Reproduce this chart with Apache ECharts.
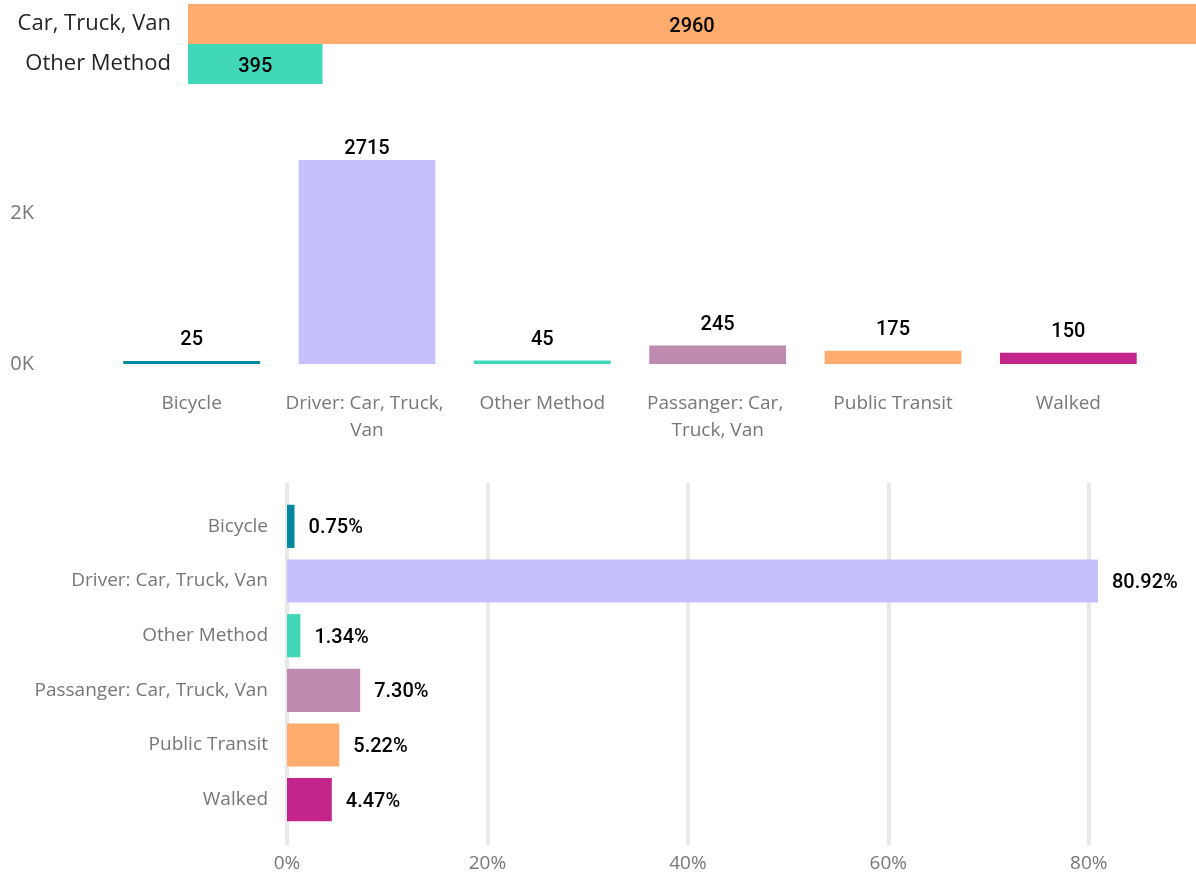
<!DOCTYPE html>
<html>
<head>
<meta charset="utf-8">
<script src="https://cdn.jsdelivr.net/npm/echarts@6/dist/echarts.min.js"></script>
<style>
  html, body { margin: 0; padding: 0; background: #fff; }
  #main { width: 1196px; height: 875px; }
</style>
</head>
<body>
<div id="main"></div>
<script>
var groupNames = ['Car, Truck, Van', 'Other Method'];
var groupValues = [2960, 395];
var groupColors = ['#FFAC6E', '#41D7B9'];

var methods = ['Bicycle', 'Driver: Car, Truck, Van', 'Other Method', 'Passanger: Car, Truck, Van', 'Public Transit', 'Walked'];
var counts = [25, 2715, 45, 245, 175, 150];
var shares = [0.75, 80.92, 1.34, 7.30, 5.22, 4.47];
var methodColors = ['#01889F', '#C5C1FF', '#41D7B9', '#BF8AB0', '#FFAC6E', '#C2268A'];

var labelFont = '"Segoe UI", "Open Sans", sans-serif';
var valueFont = 'Roboto, "DejaVu Sans Condensed", sans-serif';
var grey = '#777777';

function colored(values, colors) {
  return values.map(function (v, i) {
    return { value: v, itemStyle: { color: colors[i] } };
  });
}

// the tallest column's label gets pushed down to stay inside the plot
var maxCount = Math.max.apply(null, counts);
var countData = colored(counts, methodColors).map(function (d) {
  if (d.value === maxCount) d.label = { distance: 1 };
  return d;
});

var option = {
  animation: false,
  grid: [
    { left: 188, right: 0, top: 4, height: 80 },
    { left: 104, right: 40, top: 160, bottom: 511 },
    { left: 287, right: 7, top: 499, height: 328 },
    { left: 287, right: 7, top: 483, bottom: 30 }
  ],
  xAxis: [
    { gridIndex: 0, type: 'value', min: 0, max: 2960, show: false },
    {
      gridIndex: 1, type: 'category', data: methods,
      axisLine: { show: false }, axisTick: { show: false },
      axisLabel: {
        interval: 0, color: grey, fontFamily: labelFont, fontSize: 19,
        margin: 26, width: 165, overflow: 'break', lineHeight: 27
      }
    },
    { gridIndex: 2, type: 'value', min: 0, max: 90, show: false },
    {
      gridIndex: 3, type: 'value', min: 0, max: 90, interval: 20,
      axisLine: { show: false }, axisTick: { show: false },
      splitLine: { show: true, showMaxLine: false, lineStyle: { color: '#E9E9E9', width: 4 } },
      axisLabel: {
        formatter: '{value}%', showMaxLabel: false,
        color: grey, fontFamily: labelFont, fontSize: 19, margin: 9
      }
    }
  ],
  yAxis: [
    {
      gridIndex: 0, type: 'category', data: groupNames, inverse: true,
      axisLine: { show: false }, axisTick: { show: false },
      axisLabel: { color: '#252423', fontFamily: labelFont, fontSize: 22, margin: 17, padding: [4, 0, 0, 0] }
    },
    {
      gridIndex: 1, type: 'value', min: 0, max: 2715, interval: 2000,
      splitLine: { show: false },
      axisLabel: {
        showMaxLabel: false, color: grey, fontFamily: labelFont, fontSize: 20, margin: 70,
        padding: [4, 0, 0, 0],
        formatter: function (v) { return (v / 1000) + 'K'; }
      }
    },
    {
      gridIndex: 2, type: 'category', data: methods, inverse: true,
      axisLine: { show: false }, axisTick: { show: false },
      axisLabel: { color: grey, fontFamily: labelFont, fontSize: 19, margin: 19, padding: [2, 0, 0, 0] }
    },
    { gridIndex: 3, type: 'value', show: false }
  ],
  series: [
    {
      type: 'bar', xAxisIndex: 0, yAxisIndex: 0, barCategoryGap: '0%',
      data: colored(groupValues, groupColors),
      label: {
        show: true, position: 'inside', color: '#000', offset: [0, 3],
        fontFamily: valueFont, fontSize: 20, fontWeight: 500
      }
    },
    {
      type: 'bar', xAxisIndex: 1, yAxisIndex: 1, barCategoryGap: '22%', barMinHeight: 3,
      data: countData,
      label: {
        show: true, position: 'top', distance: 11, color: '#000',
        fontFamily: valueFont, fontSize: 20, fontWeight: 500
      }
    },
    {
      type: 'bar', xAxisIndex: 2, yAxisIndex: 2, barCategoryGap: '21%',
      data: colored(shares, methodColors),
      label: {
        show: true, position: 'right', distance: 14, color: '#000', offset: [0, 2],
        fontFamily: valueFont, fontSize: 20, fontWeight: 500,
        formatter: function (p) { return p.value.toFixed(2) + '%'; }
      }
    }
  ]
};

var myChart = echarts.init(document.getElementById('main'));
myChart.setOption(option);
window.addEventListener('resize', function () {
  myChart.resize();
});
</script>
</body>
</html>
